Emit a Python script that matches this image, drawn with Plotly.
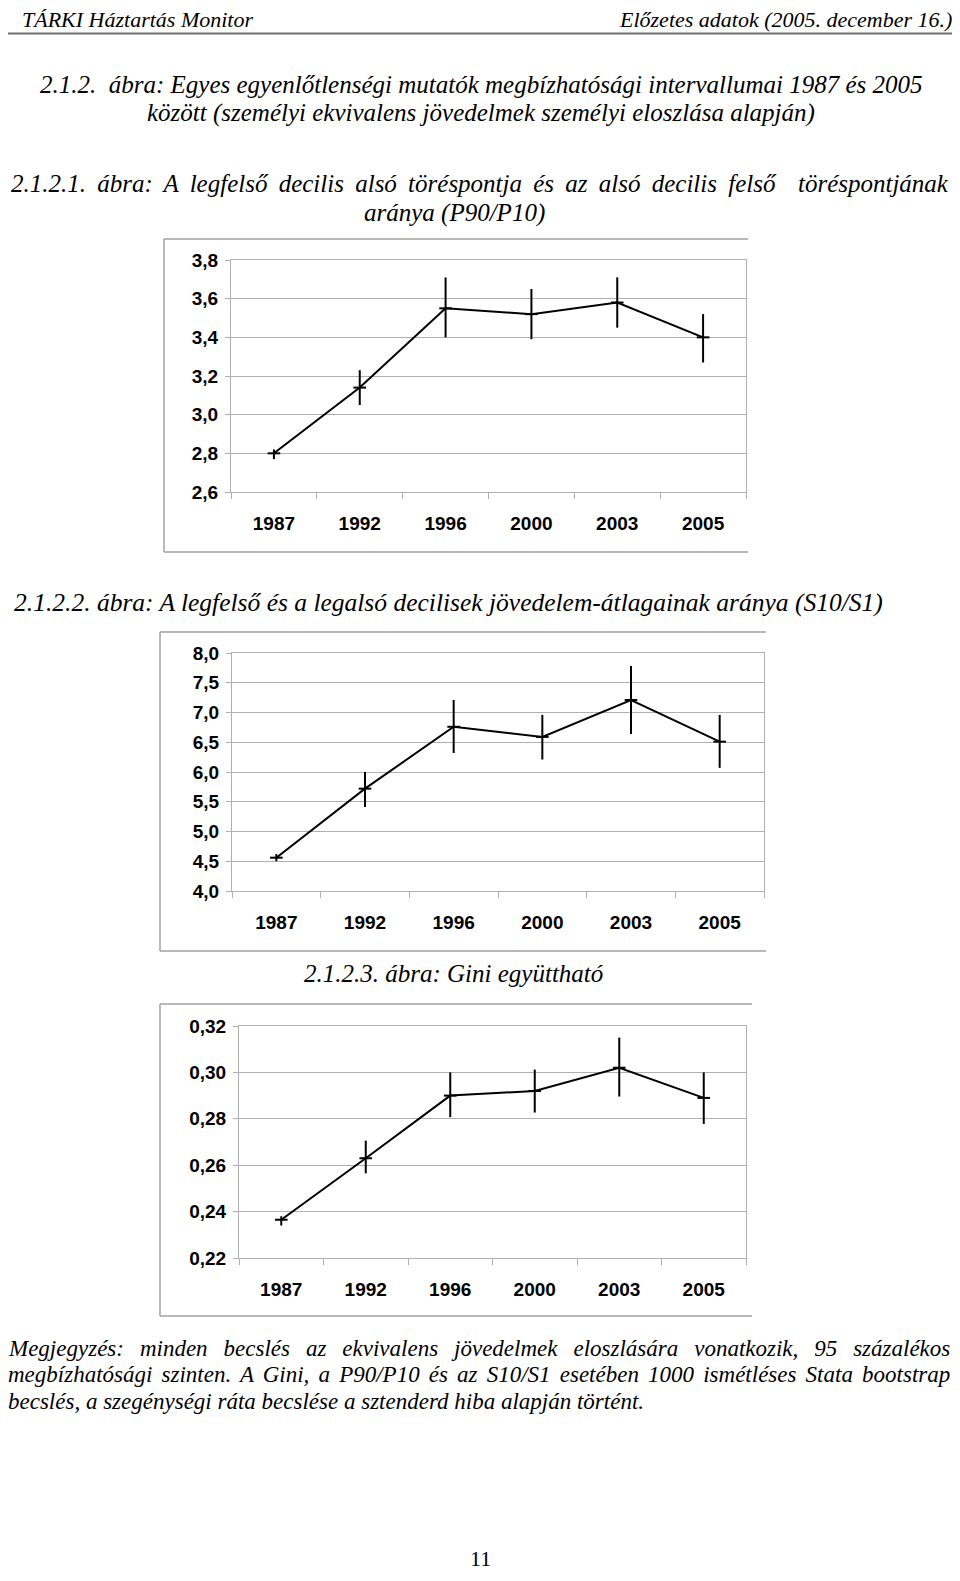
import plotly.graph_objects as go

# page is 960x1581; body margin of 8px, so the figure is a bit smaller
PAGE_W, PAGE_H = 960, 1581
OFF = 8
W, H = PAGE_W - 2 * OFF, PAGE_H - 2 * OFF

years = ["1987", "1992", "1996", "2000", "2003", "2005"]

# P90/P10 with 95% confidence bounds
p90p10 = [2.80, 3.14, 3.55, 3.52, 3.58, 3.40]
p90p10_lo = [2.77, 3.05, 3.40, 3.39, 3.45, 3.27]
p90p10_hi = [2.82, 3.23, 3.71, 3.65, 3.71, 3.52]

# S10/S1
s10s1 = [4.56, 5.72, 6.76, 6.59, 7.21, 6.51]
s10s1_lo = [4.50, 5.41, 6.32, 6.21, 6.64, 6.07]
s10s1_hi = [4.62, 6.00, 7.21, 6.96, 7.78, 6.96]

# Gini
gini = [0.2365, 0.263, 0.290, 0.292, 0.302, 0.289]
gini_lo = [0.234, 0.2565, 0.2807, 0.2827, 0.2896, 0.2778]
gini_hi = [0.238, 0.2706, 0.300, 0.3012, 0.315, 0.300]

SERIF = "Liberation Serif, Times New Roman, serif"
SANS = "Liberation Sans, Arial, sans-serif"
GRID = "#b0b0b0"
FRAME = "#a0a0a0"


def fx(x):
    # page pixel -> paper fraction
    return (x - OFF) / W


def fy(y):
    return 1 - (y - OFF) / H


panels = [
    dict(vals=p90p10, lo=p90p10_lo, hi=p90p10_hi, plot=(231, 746, 260, 492),
         frame=(164, 748, 239, 552), rng=[2.6, 3.8], dtick=0.2, fmt=".1f"),
    dict(vals=s10s1, lo=s10s1_lo, hi=s10s1_hi, plot=(232, 764, 653, 891),
         frame=(160, 766, 632, 951), rng=[4.0, 8.0], dtick=0.5, fmt=".1f"),
    dict(vals=gini, lo=gini_lo, hi=gini_hi, plot=(239, 746, 1026, 1258),
         frame=(160, 752, 1004, 1316), rng=[0.22, 0.32], dtick=0.02, fmt=".2f"),
]

fig = go.Figure()
shapes = []
layout_axes = {}

for i, p in enumerate(panels, start=1):
    xa = "x" if i == 1 else f"x{i}"
    ya = "y" if i == 1 else f"y{i}"
    fig.add_trace(go.Scatter(
        x=years, y=p["vals"], xaxis=xa, yaxis=ya,
        mode="lines+markers",
        line=dict(color="black", width=2),
        marker=dict(symbol="line-ew", size=9, line=dict(color="black", width=2)),
        error_y=dict(
            type="data", symmetric=False,
            array=[h - v for h, v in zip(p["hi"], p["vals"])],
            arrayminus=[v - l for v, l in zip(p["vals"], p["lo"])],
            color="black", thickness=2, width=0,
        ),
        showlegend=False, hoverinfo="skip",
    ))
    x0, x1, y0, y1 = p["plot"]
    xkey = "xaxis" if i == 1 else f"xaxis{i}"
    ykey = "yaxis" if i == 1 else f"yaxis{i}"
    layout_axes[xkey] = dict(
        domain=[fx(x0), fx(x1)], anchor=ya, type="category",
        range=[-0.5, 5.5], showline=True, linecolor=GRID, linewidth=1,
        mirror=True, showgrid=False, ticks="outside", tickson="boundaries",
        ticklen=6, tickcolor=GRID, ticklabelstandoff=14,
        tickfont=dict(family=SANS, size=19, color="black", weight="bold"),
    )
    layout_axes[ykey] = dict(
        domain=[fy(y1), fy(y0)], anchor=xa, range=p["rng"], dtick=p["dtick"],
        tickformat=p["fmt"], showgrid=True, gridcolor=GRID, gridwidth=1,
        showline=True, linecolor=GRID, linewidth=1, mirror=True,
        zeroline=False, ticks="outside", ticklen=5, tickcolor=GRID,
        ticklabelstandoff=3,
        tickfont=dict(family=SANS, size=19, color="black", weight="bold"),
    )
    fx0, fx1, fy0, fy1 = p["frame"]
    for (a, b, c, d) in [(fx0, fy0, fx1, fy0), (fx0, fy0, fx0, fy1), (fx0, fy1, fx1, fy1)]:
        shapes.append(dict(type="line", xref="paper", yref="paper",
                           x0=fx(a), y0=fy(b), x1=fx(c), y1=fy(d),
                           line=dict(color=FRAME, width=1.5)))

# header rule
shapes.append(dict(type="line", xref="paper", yref="paper",
                   x0=0, x1=1, y0=fy(33.5), y1=fy(33.5),
                   line=dict(color="#707070", width=2)))


def txt(text, x, y, anchor="center", size=25, italic=True):
    return dict(text=text, x=fx(x), y=fy(y), xref="paper", yref="paper",
                xanchor=anchor, yanchor="middle", showarrow=False,
                font=dict(family=SERIF, size=size, color="black",
                          style="italic" if italic else "normal"))


annotations = [
    txt("TÁRKI Háztartás Monitor", 20, 20, "left", 22),
    txt("Előzetes adatok (2005. december 16.)", 954, 20, "right", 22),
    txt("2.1.2.  ábra: Egyes egyenlőtlenségi mutatók megbízhatósági intervallumai 1987 és 2005", 481, 85),
    txt("között (személyi ekvivalens jövedelmek személyi eloszlása alapján)", 481, 113),
    txt('<span style="word-spacing:5px">2.1.2.1. ábra: A legfelső decilis alsó töréspontja és az alsó decilis felső  töréspontjának</span>', 480, 183.5),
    txt("aránya (P90/P10)", 454, 213),
    txt("2.1.2.2. ábra: A legfelső és a legalsó decilisek jövedelem-átlagainak aránya (S10/S1)", 448, 603, size=25.5),
    txt("2.1.2.3. ábra: Gini együttható", 454, 973),
    txt('<span style="word-spacing:10.2px">Megjegyzés: minden becslés az ekvivalens jövedelmek eloszlására vonatkozik, 95 százalékos</span>',
        6, 1348, "left", 23),
    txt('<span style="word-spacing:3.4px">megbízhatósági szinten. A Gini, a P90/P10 és az S10/S1 esetében 1000 ismétléses Stata bootstrap</span>',
        6, 1374.5, "left", 23),
    txt("becslés, a szegénységi ráta becslése a sztenderd hiba alapján történt.", 6, 1401, "left", 23),
    txt("11", 480, 1558, "center", 22, italic=False),
]

fig.update_layout(
    width=W, height=H,
    margin=dict(l=0, r=0, t=0, b=0, autoexpand=False),
    paper_bgcolor="white", plot_bgcolor="white",
    separators=", ",
    shapes=shapes, annotations=annotations,
    **layout_axes,
)

fig.write_html("out.html")
